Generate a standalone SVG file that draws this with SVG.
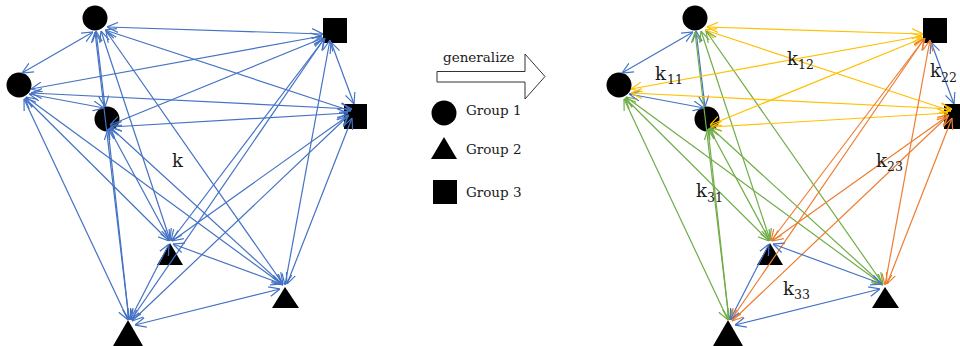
<svg xmlns="http://www.w3.org/2000/svg" width="960" height="346" viewBox="0 0 960 346">
<defs>
<marker id="mb" viewBox="0 0 11 11" refX="11" refY="5.5" markerWidth="11" markerHeight="11" markerUnits="userSpaceOnUse" orient="auto-start-reverse"><path d="M0,0.5 L11,5.5 L0,10.5" fill="none" stroke="#4472C4" stroke-width="1.2"/></marker>
<marker id="my" viewBox="0 0 11 11" refX="11" refY="5.5" markerWidth="11" markerHeight="11" markerUnits="userSpaceOnUse" orient="auto-start-reverse"><path d="M0,0.5 L11,5.5 L0,10.5" fill="none" stroke="#FFC000" stroke-width="1.2"/></marker>
<marker id="mg" viewBox="0 0 11 11" refX="11" refY="5.5" markerWidth="11" markerHeight="11" markerUnits="userSpaceOnUse" orient="auto-start-reverse"><path d="M0,0.5 L11,5.5 L0,10.5" fill="none" stroke="#70AD47" stroke-width="1.2"/></marker>
<marker id="mo" viewBox="0 0 11 11" refX="11" refY="5.5" markerWidth="11" markerHeight="11" markerUnits="userSpaceOnUse" orient="auto-start-reverse"><path d="M0,0.5 L11,5.5 L0,10.5" fill="none" stroke="#ED7D31" stroke-width="1.2"/></marker>
</defs>
<style>
line{stroke-width:1.2;fill:none}
.b{stroke:#4472C4;marker-start:url(#mb);marker-end:url(#mb)}
.y{stroke:#FFC000;marker-start:url(#my);marker-end:url(#my)}
.g{stroke:#70AD47;marker-start:url(#mg);marker-end:url(#mg)}
.o{stroke:#ED7D31;marker-start:url(#mo);marker-end:url(#mo)}
.n{fill:#000}
text{font-family:"DejaVu Serif","Liberation Serif",serif;fill:#1a1a1a}
.lg{font-size:13.5px}
.k{font-size:18px}
.s{font-size:12.5px}
</style>
<rect width="960" height="346" fill="#fff"/>

<!-- Left graph nodes -->
<g id="L-C1"><circle class="n" cx="95" cy="18" r="12.5"/></g>
<g id="L-C2"><circle class="n" cx="19" cy="85" r="12.5"/></g>
<g id="L-C3"><circle class="n" cx="107" cy="119" r="12.5"/></g>
<g id="L-S1"><rect class="n" x="323" y="18" width="24" height="25"/></g>
<g id="L-S2"><rect class="n" x="344" y="104" width="23" height="25"/></g>
<g id="L-T1"><polygon class="n" points="170,243 183,265 157,265"/></g>
<g id="L-T2"><polygon class="n" points="285,287 299,308 272,308"/></g>
<g id="L-T3"><polygon class="n" points="128,320 143,346 113,346"/></g>

<!-- Right graph nodes -->
<g id="R-C1"><circle class="n" cx="695" cy="18" r="12.5"/></g>
<g id="R-C2"><circle class="n" cx="619" cy="85" r="12.5"/></g>
<g id="R-C3"><circle class="n" cx="707" cy="119" r="12.5"/></g>
<g id="R-S1"><rect class="n" x="923" y="18" width="24" height="25"/></g>
<g id="R-S2"><rect class="n" x="944" y="104" width="23" height="25"/></g>
<g id="R-T1"><polygon class="n" points="770,243 783,265 757,265"/></g>
<g id="R-T2"><polygon class="n" points="885,287 899,308 872,308"/></g>
<g id="R-T3"><polygon class="n" points="728,320 743,346 713,346"/></g>

<g id="connectors">
<!-- left -->
<line class="b" x1="93" y1="32" x2="22" y2="73"/>
<line class="b" x1="96" y1="31" x2="105" y2="107"/>
<line class="b" x1="29" y1="94" x2="104" y2="108"/>
<line class="b" x1="107" y1="27" x2="323" y2="34"/>
<line class="b" x1="105" y1="30" x2="351" y2="111"/>
<line class="b" x1="101" y1="31" x2="170" y2="240"/>
<line class="b" x1="106" y1="31" x2="283" y2="284"/>
<line class="b" x1="95" y1="32" x2="129" y2="320"/>
<line class="b" x1="31" y1="89" x2="322" y2="36"/>
<line class="b" x1="31" y1="93" x2="352" y2="109"/>
<line class="b" x1="25" y1="98" x2="169" y2="241"/>
<line class="b" x1="26" y1="97" x2="283" y2="285"/>
<line class="b" x1="24" y1="99" x2="128" y2="320"/>
<line class="b" x1="110" y1="125" x2="323" y2="38"/>
<line class="b" x1="111" y1="127" x2="348" y2="113"/>
<line class="b" x1="109" y1="128" x2="170" y2="241"/>
<line class="b" x1="110" y1="127" x2="283" y2="285"/>
<line class="b" x1="108" y1="129" x2="129" y2="320"/>
<line class="b" x1="331" y1="42" x2="354" y2="104"/>
<line class="b" x1="325" y1="38" x2="171" y2="241"/>
<line class="b" x1="330" y1="40" x2="285" y2="285"/>
<line class="b" x1="324" y1="39" x2="131" y2="320"/>
<line class="b" x1="349" y1="115" x2="172" y2="241"/>
<line class="b" x1="352" y1="118" x2="287" y2="284"/>
<line class="b" x1="348" y1="116" x2="132" y2="321"/>
<line class="b" x1="173" y1="244" x2="282" y2="284"/>
<line class="b" x1="169" y1="244" x2="130" y2="320"/>
<line class="b" x1="280" y1="289" x2="135" y2="325"/>
<!-- right -->
<line class="b" x1="693" y1="32" x2="622" y2="73"/>
<line class="b" x1="696" y1="31" x2="705" y2="107"/>
<line class="b" x1="629" y1="94" x2="704" y2="108"/>
<line class="y" x1="707" y1="27" x2="923" y2="34"/>
<line class="y" x1="705" y1="30" x2="951" y2="111"/>
<line class="g" x1="701" y1="31" x2="770" y2="240"/>
<line class="g" x1="706" y1="31" x2="883" y2="284"/>
<line class="g" x1="695" y1="32" x2="729" y2="320"/>
<line class="y" x1="631" y1="89" x2="922" y2="36"/>
<line class="y" x1="631" y1="93" x2="952" y2="109"/>
<line class="g" x1="625" y1="98" x2="769" y2="241"/>
<line class="g" x1="626" y1="97" x2="883" y2="285"/>
<line class="g" x1="624" y1="99" x2="728" y2="320"/>
<line class="y" x1="710" y1="125" x2="923" y2="38"/>
<line class="y" x1="711" y1="127" x2="948" y2="113"/>
<line class="g" x1="709" y1="128" x2="770" y2="241"/>
<line class="g" x1="710" y1="127" x2="883" y2="285"/>
<line class="g" x1="708" y1="129" x2="729" y2="320"/>
<line class="b" x1="931" y1="42" x2="954" y2="104"/>
<line class="o" x1="925" y1="38" x2="771" y2="241"/>
<line class="o" x1="930" y1="40" x2="885" y2="285"/>
<line class="o" x1="924" y1="39" x2="731" y2="320"/>
<line class="o" x1="949" y1="115" x2="772" y2="241"/>
<line class="o" x1="952" y1="118" x2="887" y2="284"/>
<line class="o" x1="948" y1="116" x2="732" y2="321"/>
<line class="b" x1="773" y1="244" x2="882" y2="284"/>
<line class="b" x1="769" y1="244" x2="730" y2="320"/>
<line class="b" x1="880" y1="289" x2="735" y2="325"/>
</g>

<!-- labels -->
<g id="labels">
<text class="k" x="172" y="167">k</text>
<text><tspan class="k" x="655" y="80">k</tspan><tspan class="s" x="667" y="84">11</tspan></text>
<text><tspan class="k" x="787" y="65">k</tspan><tspan class="s" x="798" y="69">12</tspan></text>
<text><tspan class="k" x="930" y="77">k</tspan><tspan class="s" x="941" y="82">22</tspan></text>
<text><tspan class="k" x="876" y="167">k</tspan><tspan class="s" x="887" y="171">23</tspan></text>
<text><tspan class="k" x="696" y="197">k</tspan><tspan class="s" x="707" y="202">31</tspan></text>
<text><tspan class="k" x="783" y="295">k</tspan><tspan class="s" x="794" y="299">33</tspan></text>
</g>

<g id="generalize">
<polygon points="437,71.5 525,71.5 525,54 545,76.5 525,99 525,82 437,82" fill="#fff" stroke="#333" stroke-width="1"/>
<text class="lg" x="443" y="62">generalize</text>
</g>
<g id="legend-group1"><circle class="n" cx="444" cy="113" r="12.5"/><text class="lg" x="466" y="115">Group 1</text></g>
<g id="legend-group2"><polygon class="n" points="444,137 457,159 431,159"/><text class="lg" x="466" y="154">Group 2</text></g>
<g id="legend-group3"><rect class="n" x="433" y="180" width="24" height="24"/><text class="lg" x="466" y="197">Group 3</text></g>
</svg>
